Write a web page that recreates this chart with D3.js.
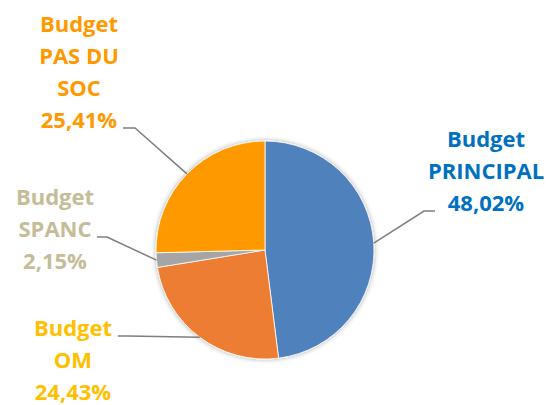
<!DOCTYPE html>
<html>
<head>
<meta charset="utf-8">
<script src="https://cdn.jsdelivr.net/npm/d3@7"></script>
<style>
  html, body { margin: 0; padding: 0; background: #fff; }
  svg { display: block; }
</style>
</head>
<body>
<svg id="chart"></svg>
<script>
// data
const categories = ["Budget PRINCIPAL", "Budget OM", "Budget SPANC", "Budget PAS DU SOC"];
const shares = [48.02, 24.43, 2.15, 25.41];
const labelLines = [
  ["Budget", "PRINCIPAL", "48,02%"],
  ["Budget", "OM", "24,43%"],
  ["Budget", "SPANC", "2,15%"],
  ["Budget", "PAS DU", "SOC", "25,41%"]
];
const sliceColors = ["#4F81BD", "#ED7D31", "#A5A5A5", "#FF9900"];
const labelColors = ["#0070C0", "#FFC000", "#C4BD97", "#FF9900"];

// label layout (text centre x, first baseline, elbow and end of leader line)
const labelLayout = [
  { x: 486, y: 147, elbow: [424, 211], end: [435, 211] },
  { x: 73, y: 336, elbow: [128, 336], end: [118, 336] },
  { x: 55, y: 205, elbow: [107, 237], end: [97, 237] },
  { x: 79, y: 32, elbow: [135, 128], end: [123, 128] }
];

const width = 559, height = 405;
const cx = 265, cy = 250, radius = 109;
const lineHeight = 32;

const svg = d3.select("#chart")
  .attr("width", width)
  .attr("height", height);

const defs = svg.append("defs");
const shadow = defs.append("filter").attr("id", "shadow")
  .attr("x", "-20%").attr("y", "-20%").attr("width", "140%").attr("height", "140%");
shadow.append("feGaussianBlur").attr("in", "SourceAlpha").attr("stdDeviation", 2.5);
shadow.append("feOffset").attr("dx", 0).attr("dy", 0).attr("result", "blur");
shadow.append("feComponentTransfer").append("feFuncA").attr("type", "linear").attr("slope", 0.35);
const merge = shadow.append("feMerge");
merge.append("feMergeNode");
merge.append("feMergeNode").attr("in", "SourceGraphic");

const pie = d3.pie().sort(null).value(d => d)(shares);
const arc = d3.arc().innerRadius(0).outerRadius(radius);
const edgeArc = d3.arc().innerRadius(radius).outerRadius(radius);

const g = svg.append("g").attr("transform", `translate(${cx},${cy})`);

g.append("g").attr("filter", "url(#shadow)")
  .selectAll("path")
  .data(pie)
  .enter()
  .append("path")
  .attr("d", arc)
  .attr("fill", (d, i) => sliceColors[i])
  .attr("stroke", "#fff")
  .attr("stroke-width", 0.8);

// leader lines from slice edge midpoint
svg.append("g").selectAll("polyline")
  .data(pie)
  .enter()
  .append("polyline")
  .attr("points", (d, i) => {
    const p = edgeArc.centroid(d);
    const L = labelLayout[i];
    return [[p[0] + cx, p[1] + cy], L.elbow, L.end].map(q => q.join(",")).join(" ");
  })
  .attr("fill", "none")
  .attr("stroke", "#7F7F7F")
  .attr("stroke-width", 1.5);

// labels
const labels = svg.append("g").selectAll("text")
  .data(labelLines)
  .enter()
  .append("text")
  .attr("text-anchor", "middle")
  .style("font-family", "'Open Sans', sans-serif")
  .style("font-weight", "bold")
  .style("font-size", "22px")
  .style("fill", (d, i) => labelColors[i]);

labels.selectAll("tspan")
  .data((d, i) => d.map(t => ({ t, i })))
  .enter()
  .append("tspan")
  .attr("x", d => labelLayout[d.i].x)
  .attr("y", (d, j) => labelLayout[d.i].y + j * lineHeight)
  .text(d => d.t);
</script>
</body>
</html>
